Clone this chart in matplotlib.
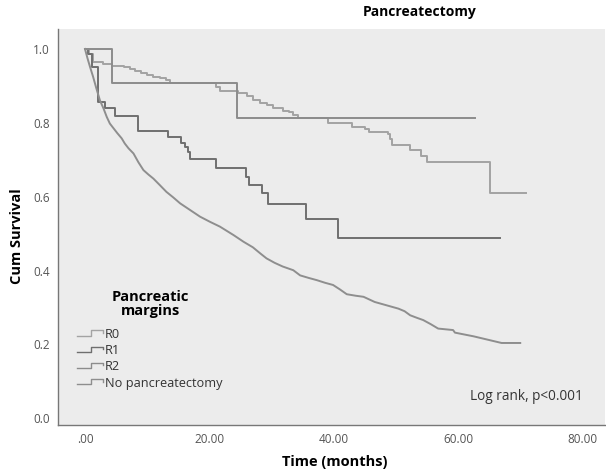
import matplotlib
matplotlib.use("Agg")
import matplotlib.pyplot as plt  # noqa: E402
from matplotlib.legend_handler import HandlerBase  # noqa: E402
from matplotlib.lines import Line2D  # noqa: E402

# ── Kaplan-Meier estimates (months, cumulative survival) ──
r0_time = [0, 0.6, 1.3, 2.9, 4.3, 6.2, 7.2, 8.0, 9.0, 9.9, 11.0, 12.1, 13.0, 13.7,
           21.0, 21.7, 24.6, 26.0, 27.1, 28.1, 29.2, 30.3, 31.9, 32.8, 33.5, 34.3,
           39.1, 42.9, 45.0, 45.6, 48.8, 49.1, 49.4, 52.3, 54.0, 55.0, 65.1]
r0_surv = [1.0, 0.985, 0.965, 0.958, 0.955, 0.952, 0.947, 0.940, 0.935, 0.930,
           0.925, 0.920, 0.915, 0.909, 0.898, 0.885, 0.880, 0.872, 0.862, 0.853,
           0.848, 0.841, 0.833, 0.828, 0.822, 0.812, 0.799, 0.789, 0.784, 0.774,
           0.770, 0.757, 0.741, 0.727, 0.711, 0.694, 0.609]
r0_end = 71.0

r1_time = [0, 0.5, 1.2, 2.1, 3.2, 4.8, 8.6, 13.4, 15.5, 16.1, 16.6, 16.9, 21.1,
           25.9, 26.3, 28.4, 29.5, 35.6, 40.7]
r1_surv = [1.0, 0.985, 0.952, 0.857, 0.839, 0.818, 0.779, 0.762, 0.744, 0.735,
           0.722, 0.701, 0.679, 0.654, 0.631, 0.609, 0.579, 0.539, 0.489]
r1_end = 66.8

r2_time = [0, 4.3, 24.4]
r2_surv = [1.0, 0.909, 0.812]
r2_end = 62.7

nop_time = [0, 0.4, 0.8, 1.3, 1.8, 2.4, 3.0, 3.5, 4.0, 4.6, 5.2, 5.9, 6.4, 7.0,
            7.8, 8.6, 9.4, 10.2, 11.0, 12.0, 13.1, 14.2, 15.3, 16.9, 18.5, 20.1,
            21.7, 23.9, 25.5, 27.0, 28.3, 29.2, 30.5, 31.8, 33.5, 34.6, 36.0,
            37.3, 38.6, 39.9, 41.0, 42.1, 43.5, 44.8, 46.6, 48.5, 50.4, 51.4,
            52.3, 53.4, 54.4, 55.6, 56.8, 59.2, 59.5, 62.5, 67.0]
nop_surv = [1.0, 0.975, 0.952, 0.925, 0.895, 0.861, 0.838, 0.816, 0.798, 0.785,
            0.772, 0.758, 0.744, 0.731, 0.717, 0.693, 0.672, 0.660, 0.649, 0.632,
            0.613, 0.598, 0.582, 0.564, 0.546, 0.532, 0.519, 0.496, 0.478, 0.463,
            0.445, 0.433, 0.421, 0.411, 0.401, 0.387, 0.380, 0.374, 0.367, 0.361,
            0.349, 0.336, 0.332, 0.329, 0.315, 0.306, 0.297, 0.290, 0.279, 0.272,
            0.266, 0.255, 0.243, 0.239, 0.232, 0.222, 0.204]
nop_end = 70.0

labels = ["R0", "R1", "R2", "No pancreatectomy"]
colors = ["#a3a3a3", "#6f6f6f", "#8c8c8c", "#8e8e8e"]
x_ticks = [0, 20, 40, 60, 80]
x_tick_labels = [".00", "20.00", "40.00", "60.00", "80.00"]
y_ticks = [0.0, 0.2, 0.4, 0.6, 0.8, 1.0]

FONT = ["Open Sans", "DejaVu Sans"]
plt.rcParams["font.family"] = FONT


class StepHandler(HandlerBase):
    """SPSS-style little step icon for the legend."""

    def create_artists(self, legend, orig_handle, xdescent, ydescent,
                       width, height, fontsize, trans):
        x0, y0 = -xdescent, -ydescent
        xs = [x0, x0 + 0.55 * width, x0 + 0.55 * width, x0 + width, x0 + width]
        ys = [y0 + 0.25 * height, y0 + 0.25 * height, y0 + 0.85 * height,
              y0 + 0.85 * height, y0 + 0.55 * height]
        line = Line2D(xs, ys, color=orig_handle.get_color(), lw=1.0,
                      transform=trans)
        return [line]


fig = plt.figure(figsize=(6.06, 4.72), dpi=100)
ax = fig.add_axes([0.0957, 0.0996, 0.9023, 0.839])
ax.set_facecolor("#ececec")

series = [(r0_time, r0_surv, r0_end), (r1_time, r1_surv, r1_end),
          (r2_time, r2_surv, r2_end), (nop_time, nop_surv, nop_end)]
handles = []
for i, ((t, s, end), lab, col) in enumerate(zip(series, labels, colors)):
    # the large no-pancreatectomy group has tiny steps, so it reads as a curve
    style = "default" if i == 3 else "steps-post"
    (h,) = ax.plot(t + [end], s + [s[-1]], drawstyle=style, color=col, lw=1.4,
                   label=lab)
    handles.append(h)

ax.set_xlim(-4.34, 83.6)
ax.set_ylim(-0.018, 1.054)
ax.set_xticks(x_ticks)
ax.set_xticklabels(x_tick_labels)
ax.set_yticks(y_ticks)
ax.set_yticklabels([f"{v:.1f}" for v in y_ticks])
ax.tick_params(length=0, labelsize=8.5, colors="#555555")
ax.tick_params(axis="x", pad=6)
ax.tick_params(axis="y", pad=6)
for side in ("top", "right"):
    ax.spines[side].set_visible(False)
for side in ("left", "bottom"):
    ax.spines[side].set_color("#777777")
    ax.spines[side].set_linewidth(1.0)

# legend title drawn separately so the gap above the entries matches SPSS
fig.text(150 / 606, 1 - 304 / 472, "Pancreatic\nmargins", ha="center",
         va="center", fontsize=10.5, fontweight="bold", linespacing=1.05)
leg = ax.legend(handles=handles, labels=labels,
                handler_map={Line2D: StepHandler()}, frameon=False,
                loc="upper left", bbox_to_anchor=(0.026, 0.258),
                fontsize=9.2, handlelength=2.0, handletextpad=0.15,
                labelspacing=0.25, borderaxespad=0)
for txt in leg.get_texts():
    txt.set_color("#333333")

ax.text(62.0, 0.06, "Log rank, p<0.001", fontsize=9.8, color="#333333",
        ha="left", va="center")

fig.text(0.693, 0.974, "Pancreatectomy", ha="center", va="center",
         fontsize=10, fontweight="bold")
fig.text(0.028, 0.50, "Cum Survival", ha="center", va="center", rotation=90,
         fontsize=10.5, fontweight="bold")
fig.text(0.553, 0.022, "Time (months)", ha="center", va="center",
         fontsize=10.5, fontweight="bold")

fig.savefig("out.png", dpi=100)
